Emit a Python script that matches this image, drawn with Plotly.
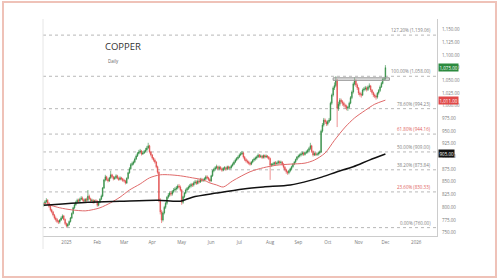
import plotly.graph_objects as go
import pandas as pd

# ---------------- data ----------------
first_open = 804
closes = [
    807, 811, 814, 808, 802, 795, 791, 785, 779, 776,
    772, 771, 775, 779, 783, 776, 768, 763, 766, 772,
    779, 788, 799, 805, 810, 814, 812, 816, 818, 815,
    812, 816, 814, 822, 817, 813, 814, 810, 813, 812,
    804, 810, 816, 822, 838, 854, 860, 855, 852, 858,
    864, 860, 856, 858, 862, 857, 855, 858, 856, 853,
    852, 848, 857, 868, 876, 884, 886, 889, 895, 901,
    906, 909, 911, 905, 907, 910, 913, 917, 921, 909,
    903, 897, 893, 889, 880, 869, 814, 791, 775, 789,
    800, 808, 820, 824, 828, 826, 831, 834, 836, 838,
    842, 840, 834, 810, 821, 828, 834, 837, 840, 842,
    845, 844, 848, 850, 847, 852, 850, 855, 853, 854,
    856, 860, 858, 855, 852, 862, 872, 875, 878, 880,
    876, 879, 876, 873, 877, 878, 875, 880, 877, 878,
    882, 885, 889, 893, 896, 899, 903, 905, 907, 899,
    894, 891, 889, 887, 885, 889, 893, 895, 897, 899,
    903, 900, 901, 898, 902, 899, 901, 899, 896, 883,
    884, 885, 888, 886, 887, 890, 888, 889, 885, 879,
    874, 870, 868, 872, 876, 880, 885, 889, 894, 899,
    901, 903, 905, 907, 904, 908, 909, 912, 916, 921,
    910, 903, 906, 904, 905, 907, 909, 950, 962, 972,
    968, 964, 969, 972, 1005, 1021, 1035, 1040, 1050, 995,
    1003, 1011, 1008, 1005, 1001, 999, 995, 997, 1005, 1016,
    1027, 1043, 1050, 1041, 1035, 1025, 1022, 1021, 1031, 1033,
    1035, 1032, 1037, 1039, 1031, 1026, 1021, 1019, 1017, 1025,
    1030, 1037, 1044, 1052, 1053, 1075,
]
highs = [
    810, 814, 818, 816, 810, 804, 797, 793, 787, 782,
    779, 775, 777, 782, 786, 785, 778, 770, 769, 774,
    781, 790, 801, 808, 813, 817, 817, 819, 822, 821,
    817, 818, 819, 834, 825, 819, 817, 816, 815, 816,
    814, 812, 818, 825, 840, 856, 864, 862, 858, 860,
    872, 866, 862, 861, 865, 864, 860, 861, 860, 858,
    856, 854, 859, 870, 879, 887, 890, 892, 898, 904,
    909, 913, 915, 913, 911, 913, 917, 921, 927, 923,
    911, 905, 899, 896, 891, 882, 871, 818, 795, 792,
    803, 811, 822, 828, 831, 832, 834, 838, 840, 842,
    845, 846, 843, 836, 823, 830, 837, 840, 843, 846,
    848, 848, 851, 854, 853, 855, 855, 858, 858, 857,
    859, 863, 863, 860, 857, 864, 874, 878, 881, 884,
    882, 882, 881, 878, 879, 881, 880, 882, 882, 881,
    884, 888, 892, 896, 899, 902, 906, 909, 911, 909,
    901, 897, 894, 892, 890, 891, 895, 898, 900, 902,
    906, 905, 904, 903, 904, 904, 904, 903, 901, 898,
    887, 888, 890, 891, 890, 893, 892, 892, 891, 887,
    881, 876, 872, 874, 878, 882, 887, 891, 896, 901,
    904, 906, 908, 910, 909, 910, 912, 915, 919, 927,
    923, 912, 908, 909, 908, 910, 912, 953, 966, 976,
    975, 971, 972, 976, 1008, 1024, 1038, 1046, 1058, 1053,
    1008, 1015, 1014, 1011, 1008, 1004, 1002, 1000, 1008, 1019,
    1030, 1046, 1056, 1052, 1044, 1037, 1028, 1026, 1034, 1037,
    1039, 1038, 1040, 1044, 1041, 1033, 1028, 1024, 1022, 1027,
    1033, 1040, 1047, 1055, 1057, 1080,
]
lows = [
    801, 804, 809, 806, 799, 792, 788, 782, 776, 772,
    769, 767, 768, 773, 777, 774, 765, 760, 761, 764,
    770, 777, 786, 797, 803, 808, 809, 810, 814, 812,
    809, 810, 811, 812, 815, 810, 810, 807, 808, 809,
    801, 802, 808, 814, 820, 836, 851, 852, 849, 850,
    856, 857, 853, 854, 856, 855, 852, 853, 853, 850,
    849, 845, 846, 855, 866, 874, 881, 883, 887, 893,
    899, 904, 906, 902, 903, 905, 908, 911, 915, 906,
    900, 894, 890, 886, 877, 866, 810, 786, 769, 772,
    786, 797, 805, 817, 821, 822, 823, 828, 831, 833,
    835, 837, 831, 805, 807, 818, 826, 831, 834, 837,
    839, 840, 841, 845, 844, 845, 847, 848, 850, 850,
    851, 853, 855, 852, 849, 850, 860, 869, 872, 875,
    873, 873, 873, 870, 871, 874, 872, 873, 874, 874,
    876, 880, 883, 887, 891, 894, 897, 901, 903, 896,
    891, 888, 886, 884, 882, 883, 887, 890, 892, 894,
    897, 897, 897, 895, 896, 896, 897, 896, 893, 854,
    880, 881, 882, 883, 883, 884, 885, 885, 882, 876,
    871, 866, 864, 865, 869, 873, 878, 883, 887, 892,
    896, 898, 900, 902, 901, 902, 905, 906, 909, 913,
    907, 900, 901, 901, 901, 902, 904, 907, 947, 959,
    964, 960, 961, 966, 970, 1002, 1018, 1031, 1037, 958,
    990, 999, 1004, 1000, 997, 994, 991, 990, 994, 1003,
    1013, 1024, 1040, 1037, 1031, 1021, 1018, 1016, 1019, 1028,
    1030, 1028, 1029, 1034, 1027, 1022, 1017, 1015, 1012, 1014,
    1022, 1027, 1035, 1042, 1049, 1051,
]
start_date = "2024-12-09"

red_ma_dates = ['2024-12-09', '2024-12-25', '2025-01-07', '2025-01-21', '2025-01-28', '2025-02-05',
                '2025-02-17', '2025-02-26', '2025-03-07', '2025-03-19', '2025-03-28', '2025-04-09',
                '2025-04-18', '2025-04-30', '2025-05-13', '2025-05-23', '2025-05-30', '2025-06-06',
                '2025-06-13', '2025-06-24', '2025-07-11', '2025-07-25', '2025-08-08', '2025-08-22',
                '2025-09-08', '2025-09-17', '2025-09-29', '2025-10-08', '2025-10-20', '2025-10-29',
                '2025-11-10', '2025-11-19', '2025-12-01']
red_ma_vals = [808, 799, 795, 793, 795, 799, 809, 820, 834, 846, 858, 864, 864, 862, 858, 854,
               848, 844, 840, 852, 870, 878, 883, 885, 887, 893, 907, 932, 958, 976, 991, 1003, 1011]

black_ma_dates = ['2024-12-09', '2025-01-23', '2025-02-26', '2025-04-07', '2025-04-30', '2025-05-13',
                  '2025-06-06', '2025-07-04', '2025-07-25', '2025-08-22', '2025-09-12', '2025-09-25',
                  '2025-10-10', '2025-10-28', '2025-11-13', '2025-12-01']
black_ma_vals = [804, 810, 812, 814, 812, 820, 828, 836, 840, 844, 853, 860, 870, 880, 893, 905]

fib_low = 760.0
fib_high = 1058.0
fib_ratios = [0.0, 0.236, 0.382, 0.5, 0.618, 0.786, 1.0, 1.272]
fib_label_colors = ['#808080', '#e06060', '#808080', '#808080', '#e06060', '#808080', '#808080', '#808080']

resist_start = "2025-10-07"
resist_end = "2025-12-04"
resist_low = 1050
resist_high = 1055

tick_dates = ['2025-01-01', '2025-02-03', '2025-03-03', '2025-04-01', '2025-05-01', '2025-06-02',
              '2025-07-01', '2025-08-01', '2025-09-01', '2025-10-01', '2025-11-03', '2025-12-01',
              '2026-01-01']
tick_labels = ['2025', 'Feb', 'Mar', 'Apr', 'May', 'Jun', 'Jul', 'Aug', 'Sep', 'Oct', 'Nov', 'Dec', '2026']

y_tick_vals = list(range(750, 1151, 25))

title_text = "COPPER"
subtitle_text = "Daily"

# ---------------- build ----------------
n = min(len(closes), len(highs), len(lows))
closes, highs, lows = closes[:n], highs[:n], lows[:n]
opens = [first_open] + closes[:-1]
dates = pd.bdate_range(start_date, periods=n)

GREEN = '#2b8a3e'
RED = '#e04848'

fig = go.Figure()
fig.add_trace(go.Candlestick(
    x=dates, open=opens, high=highs, low=lows, close=closes,
    increasing=dict(line=dict(color=GREEN, width=0.6), fillcolor=GREEN),
    decreasing=dict(line=dict(color=RED, width=0.6), fillcolor=RED),
    whiskerwidth=0, showlegend=False, hoverinfo='skip'))

fig.add_trace(go.Scatter(x=pd.to_datetime(red_ma_dates), y=red_ma_vals, mode='lines',
                         line=dict(color='#e06a6a', width=1, shape='spline', smoothing=0.8),
                         showlegend=False, hoverinfo='skip'))
fig.add_trace(go.Scatter(x=pd.to_datetime(black_ma_dates), y=black_ma_vals, mode='lines',
                         line=dict(color='#111111', width=1.5, shape='spline', smoothing=0.8),
                         showlegend=False, hoverinfo='skip'))

shapes = []
annotations = []
for r, col in zip(fib_ratios, fib_label_colors):
    v = fib_low + r * (fib_high - fib_low)
    shapes.append(dict(type='line', xref='paper', x0=0, x1=1, yref='y', y0=v, y1=v,
                       line=dict(color='#b8b8b8', width=1, dash='dot'), layer='below'))
    annotations.append(dict(xref='paper', x=0.99, xanchor='right', yref='y', y=v, yanchor='bottom',
                            yshift=0, text=f"{r*100:.2f}% ({v:,.2f})", showarrow=False,
                            font=dict(size=4.5, color=col, family='Open Sans')))

shapes.append(dict(type='rect', xref='x', yref='y', x0=resist_start, x1=resist_end,
                   y0=resist_low, y1=resist_high, line=dict(color='#9a9a9a', width=1),
                   fillcolor='rgba(170,170,170,0.35)'))

# outer frame
shapes.append(dict(type='rect', xref='paper', yref='paper', x0=-0.1015, x1=1.1497, y0=-0.189, y1=1.078,
                   line=dict(color='#efc2b8', width=2), fillcolor='rgba(0,0,0,0)'))
# left border of chart panel
shapes.append(dict(type='line', xref='paper', yref='paper', x0=0, x1=0, y0=-0.06, y1=1.0,
                   line=dict(color='#e6e6e6', width=1)))

# last value boxes (drawn over the axis, covering tick labels like the original)
for val, bg in [(closes[-1], GREEN), (red_ma_vals[-1], RED), (black_ma_vals[-1], '#111111')]:
    annotations.append(dict(xref='paper', x=1.0, xanchor='left', xshift=1, yref='y', y=val,
                            yanchor='middle', text=f"{val:,.2f}", showarrow=False,
                            bgcolor=bg, borderpad=0.5,
                            font=dict(size=4.5, color='white', family='Open Sans')))

annotations.append(dict(xref='paper', yref='paper', x=0.152, y=0.871, xanchor='left', yanchor='middle',
                        text=title_text, showarrow=False,
                        font=dict(size=9.5, color='#333333', family='Open Sans')))
annotations.append(dict(xref='paper', yref='paper', x=0.160, y=0.806, xanchor='left', yanchor='middle',
                        text=subtitle_text, showarrow=False,
                        font=dict(size=4.5, color='#666666', family='Open Sans')))

fig.update_layout(
    width=500, height=280,
    margin=dict(l=43, r=63, t=19, b=44),
    paper_bgcolor='white', plot_bgcolor='white',
    shapes=shapes, annotations=annotations,
    showlegend=False,
    font=dict(family='Open Sans', size=5, color='#777777'),
)
fig.update_xaxes(
    rangeslider_visible=False,
    rangebreaks=[dict(bounds=['sat', 'mon'])],
    range=['2024-12-06 12:00', '2026-01-22 12:00'],
    tickvals=tick_dates, ticktext=tick_labels,
    tickfont=dict(size=4.5, color='#777777'),
    showgrid=False, zeroline=False,
    showline=True, linecolor='#cccccc', linewidth=1,
    ticks='', ticklabelstandoff=2,
)
fig.update_yaxes(
    side='right',
    range=[743.5, 1170.8],
    tickvals=y_tick_vals, tickformat=',.2f',
    tickfont=dict(size=4.5, color='#777777'),
    showgrid=False, zeroline=False,
    showline=True, linecolor='#cccccc', linewidth=1,
    ticks='', ticklabelstandoff=3,
)

fig.write_html("out.html")
